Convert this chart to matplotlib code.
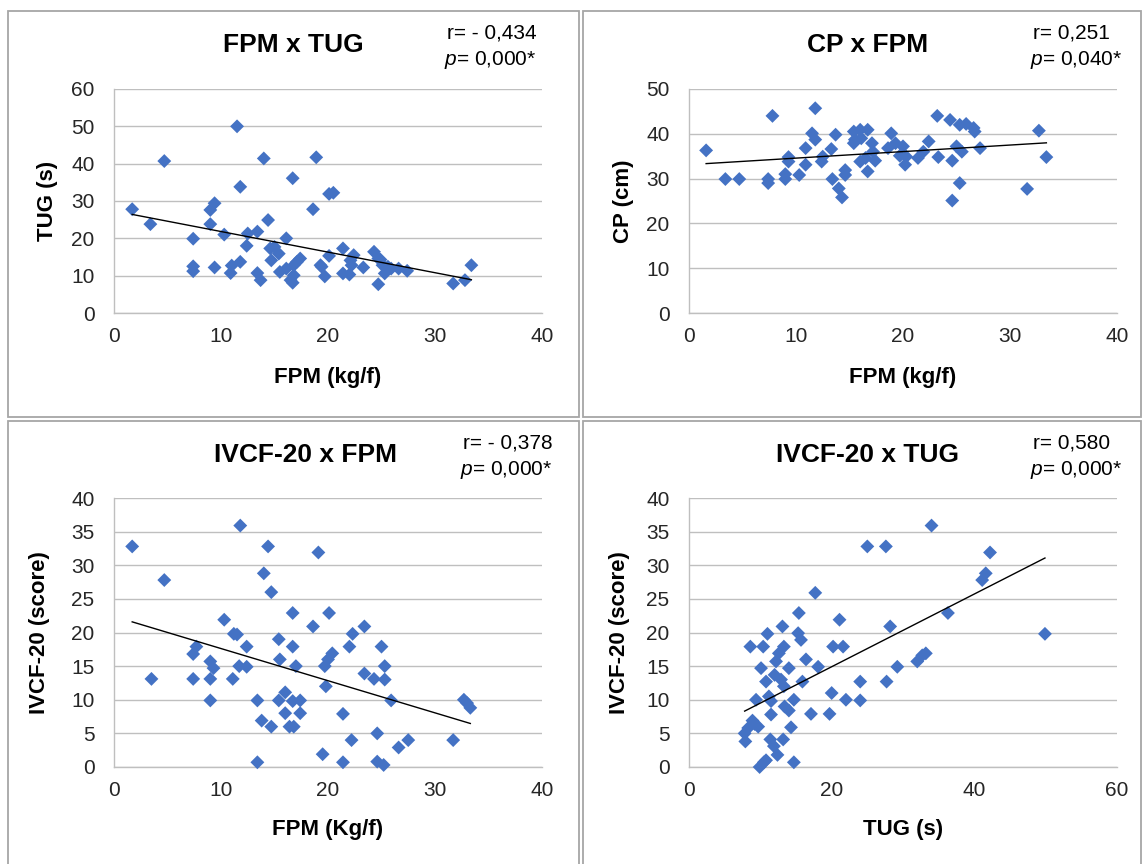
import numpy as np
import matplotlib
matplotlib.use("Agg")
import matplotlib.pyplot as plt
from matplotlib.patches import Rectangle

plt.rcParams['font.family'] = ['Liberation Sans', 'DejaVu Sans']
plt.rcParams['mathtext.fontset'] = 'custom'
plt.rcParams['mathtext.rm'] = 'Liberation Sans'
plt.rcParams['mathtext.it'] = 'Liberation Sans:italic'

# ---------------- data ----------------
# Panel 1: FPM x TUG
fpm_a = [1.7, 3.4, 4.7, 7.4, 7.4, 7.4, 9.0, 9.4, 9.0, 9.4, 10.3, 10.9, 11.0, 11.5, 11.8, 11.8,
         12.4, 12.5, 13.4, 13.4, 13.7, 14.0, 14.4, 14.6, 14.7, 15.4, 15.5, 16.1, 16.1, 16.5, 16.7,
         16.7, 16.8, 17.1, 17.4, 18.6, 18.9, 19.3, 19.7, 20.1, 20.1, 20.5, 21.4, 21.4, 22.0, 22.4,
         22.2, 23.3, 24.3, 24.7, 24.7, 25.1, 25.3, 25.9, 26.6, 27.4, 31.7, 32.8, 33.4,
         15.0, 19.4, 22.1, 24.9, 25.6, 16.8]
tug_a = [27.8, 23.8, 40.7, 19.9, 12.5, 11.2, 27.6, 29.4, 23.8, 12.2, 21.0, 10.7, 12.7, 50.0, 33.8, 13.7,
         18.0, 21.3, 21.8, 10.7, 8.8, 41.4, 24.9, 17.3, 14.1, 15.9, 11.0, 20.0, 11.9, 8.8, 8.1,
         36.1, 10.1, 13.7, 14.6, 27.8, 41.7, 12.8, 9.8, 15.3, 31.9, 32.2, 17.3, 10.6, 10.3, 15.5,
         12.8, 12.2, 16.4, 7.7, 14.6, 12.8, 10.6, 11.9, 11.9, 11.3, 7.9, 8.8, 12.8,
         17.7, 12.4, 14.1, 14.3, 12.4, 12.8]

# Panel 2: CP x FPM
fpm_b = [1.6, 3.4, 4.7, 7.4, 7.4, 7.8, 9.0, 9.0, 9.3, 9.3, 10.3, 10.9, 10.9, 11.5, 11.8, 11.8,
         12.4, 12.5, 13.3, 13.4, 13.7, 14.0, 14.3, 14.6, 14.6, 15.4, 15.4, 15.5, 16.0, 16.0, 16.1,
         16.5, 16.7, 16.7, 17.1, 17.2, 17.4, 18.6, 18.9, 19.3, 19.7, 20.0, 20.2, 20.3, 21.4, 21.9,
         22.4, 23.2, 23.3, 24.4, 24.6, 24.6, 25.0, 25.3, 25.3, 25.5, 25.9, 26.6, 26.7, 27.2, 31.6,
         32.7, 33.4]
cp_b = [36.3, 29.9, 29.9, 29.9, 29.0, 44.0, 29.9, 31.0, 34.8, 33.8, 30.8, 33.1, 36.8, 40.1, 38.7, 45.7,
        33.8, 34.9, 36.6, 29.9, 39.8, 27.8, 25.8, 30.8, 31.9, 40.5, 37.9, 38.7, 40.9, 33.8, 39.0,
        34.6, 40.9, 31.6, 37.9, 36.0, 34.0, 36.8, 40.1, 37.9, 35.1, 37.2, 33.1, 34.9, 34.6, 36.0,
        38.3, 44.0, 34.8, 43.1, 34.0, 25.1, 37.2, 29.0, 42.0, 36.0, 42.2, 41.3, 40.5, 36.8, 27.7,
        40.7, 34.8]

# Panel 3: IVCF-20 x FPM
fpm_c = [1.7, 3.5, 4.7, 7.4, 7.7, 7.4, 9.0, 9.3, 9.0, 9.0, 10.3, 11.2, 11.5, 11.1, 11.8, 11.7,
         12.4, 12.4, 13.4, 13.4, 13.8, 14.0, 14.4, 14.7, 14.7, 15.4, 15.5, 15.4, 16.0, 16.0, 16.4,
         16.7, 16.7, 16.7, 16.8, 17.0, 17.4, 17.4, 18.6, 19.1, 19.5, 19.7, 19.8, 20.0, 20.1, 20.4,
         21.4, 21.4, 22.0, 22.2, 22.3, 23.4, 23.4, 24.3, 24.6, 24.6, 25.0, 25.2, 25.3, 25.3, 25.9,
         26.6, 27.5, 31.7, 32.7, 33.0, 33.3]
ivcf_c = [32.8, 13.1, 27.8, 16.8, 17.9, 13.1, 15.7, 14.7, 13.1, 9.9, 21.9, 19.8, 19.7, 13.1, 35.9, 15.0,
          17.9, 14.9, 9.9, 0.7, 6.9, 28.8, 32.8, 26.0, 6.0, 19.0, 16.0, 9.9, 11.1, 8.0, 6.0,
          22.9, 17.9, 9.8, 6.0, 15.0, 9.9, 8.0, 20.9, 31.9, 1.9, 15.0, 12.0, 16.0, 22.9, 16.9,
          7.9, 0.7, 17.9, 4.0, 19.8, 20.9, 13.9, 13.1, 5.0, 0.8, 17.9, 0.3, 15.0, 13.0, 9.9,
          2.9, 4.0, 4.0, 10.0, 9.5, 8.8]

# Panel 4: IVCF-20 x TUG
tug_d = [7.9, 7.8, 8.3, 8.9, 9.2, 9.7, 8.6, 10.1, 9.4, 9.9, 10.5, 10.8, 10.4, 11.0, 10.8, 11.2,
         11.5, 11.5, 11.4, 11.9, 12.4, 12.0, 12.2, 12.6, 12.9, 13.1, 13.2, 13.3, 13.3, 13.4, 14.0,
         14.0, 14.3, 14.7, 14.7, 15.4, 15.3, 15.7, 15.9, 16.4, 17.1, 17.7, 18.1, 19.7, 20.0, 20.2,
         21.1, 21.6, 22.0, 24.0, 24.0, 25.0, 27.6, 27.7, 28.2, 29.2, 32.0, 32.7, 33.2, 34.0, 36.3,
         41.1, 41.6, 42.2, 49.9]
ivcf_d = [3.8, 5.0, 5.8, 6.9, 6.4, 6.0, 17.9, 14.7, 10.0, 0.0, 0.7, 1.0, 17.9, 19.8, 12.7, 10.5,
          9.8, 7.8, 4.1, 3.1, 1.8, 13.7, 15.7, 16.9, 13.0, 20.9, 4.1, 17.9, 12.0, 9.0, 14.7,
          8.4, 5.9, 0.7, 10.0, 22.9, 19.9, 18.9, 12.7, 16.0, 7.9, 25.9, 14.9, 7.9, 11.0, 17.9,
          21.9, 17.9, 10.0, 12.7, 9.9, 32.8, 32.8, 12.7, 20.9, 14.9, 15.7, 16.6, 16.9, 35.9, 22.9,
          27.8, 28.8, 31.9, 19.8]

titles = ["FPM x TUG", "CP x FPM", "IVCF-20 x FPM", "IVCF-20 x TUG"]
r_texts = ["r= - 0,434", "r= 0,251", "r= - 0,378", "r= 0,580"]
p_texts = ["0,000*", "0,040*", "0,000*", "0,000*"]
xlabels = ["FPM (kg/f)", "FPM (kg/f)", "FPM (Kg/f)", "TUG (s)"]
ylabels = ["TUG (s)", "CP (cm)", "IVCF-20 (score)", "IVCF-20 (score)"]
xlims = [(0, 40), (0, 40), (0, 40), (0, 60)]
xsteps = [10, 10, 10, 20]
ylims = [(0, 60), (0, 50), (0, 40), (0, 40)]
ysteps = [10, 10, 5, 5]

xs = [fpm_a, fpm_b, fpm_c, tug_d]
ys = [tug_a, cp_b, ivcf_c, ivcf_d]

# ---------------- layout ----------------
W, H = 1144, 864
fig = plt.figure(figsize=(W / 100, H / 100), dpi=100)

def fx(px):
    return px / W

def fy(py):
    return 1 - py / H

# panel frames (pixel boxes)
frames = [(8, 11, 579, 417), (583, 11, 1141, 417), (8, 421, 579, 880), (583, 421, 1141, 880)]
for (x0, y0, x1, y1) in frames:
    fig.add_artist(Rectangle((fx(x0), fy(y1)), fx(x1 - x0), (y1 - y0) / H,
                             transform=fig.transFigure, fill=False,
                             edgecolor='#a6a6a6', linewidth=1.3, clip_on=False))

axes_px = [(114, 89, 542, 313), (689, 89, 1117, 313), (114, 498, 542, 767), (689, 498, 1117, 767)]
title_pos = [(293, 45), (868, 45), (305, 455), (868, 455)]
rp_left = [447, 1033, 463, 1033]
rp_y = [(33, 60), (33, 60), (443, 470), (443, 470)]
ylab_x = [48, 624, 40, 620]
xlab_y = [377, 377, 830, 830]

grid_col = '#bfbfbf'
tick_col = '#262626'
blue = '#4472C4'

for i in range(4):
    x0, y0, x1, y1 = axes_px[i]
    ax = fig.add_axes([fx(x0), fy(y1), fx(x1 - x0), (y1 - y0) / H])
    x = np.array(xs[i], dtype=float)
    y = np.array(ys[i], dtype=float)
    ax.scatter(x, y, marker='D', s=50, color=blue, edgecolors='none', zorder=3, clip_on=False)
    k, b = np.polyfit(x, y, 1)
    xl = np.array([x.min(), x.max()])
    ax.plot(xl, k * xl + b, color='black', linewidth=1.0, zorder=4)

    ax.set_xlim(*xlims[i])
    ax.set_ylim(*ylims[i])
    ax.set_xticks(np.arange(xlims[i][0], xlims[i][1] + 0.1, xsteps[i]))
    ax.set_yticks(np.arange(ylims[i][0], ylims[i][1] + 0.1, ysteps[i]))
    ax.tick_params(length=0, labelsize=15, labelcolor=tick_col)
    ax.tick_params(axis='y', pad=14)
    ax.tick_params(axis='x', pad=10)
    ax.grid(axis='y', color=grid_col, linewidth=1.0)
    ax.set_axisbelow(True)
    for s in ['top', 'right']:
        ax.spines[s].set_visible(False)
    for s in ['left', 'bottom']:
        ax.spines[s].set_color(grid_col)
        ax.spines[s].set_linewidth(1.0)

    # texts
    tx, ty = title_pos[i]
    fig.text(fx(tx), fy(ty), titles[i], ha='center', va='center', fontsize=19, fontweight='bold')
    fig.text(fx(rp_left[i]), fy(rp_y[i][0]), r_texts[i], ha='left', va='center', fontsize=15)
    fig.text(fx(rp_left[i] - 3), fy(rp_y[i][1]), r'$\it{p}$' + '= ' + p_texts[i],
             ha='left', va='center', fontsize=15)
    fig.text(fx((x0 + x1) / 2), fy(xlab_y[i]), xlabels[i], ha='center', va='center',
             fontsize=16, fontweight='bold')
    fig.text(fx(ylab_x[i]), fy((y0 + y1) / 2), ylabels[i], ha='center', va='center',
             rotation=90, fontsize=16, fontweight='bold')

fig.savefig('out.png', dpi=100)
